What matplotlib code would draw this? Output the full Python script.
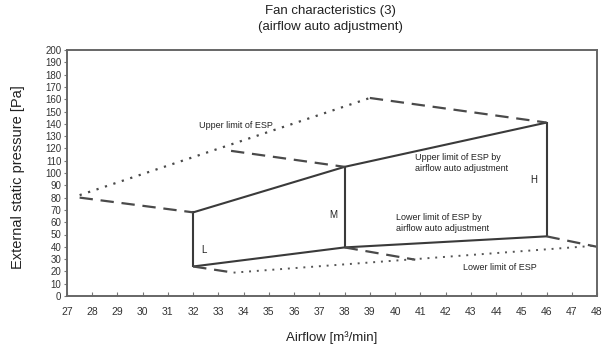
import matplotlib
matplotlib.use("Agg")
import matplotlib.pyplot as plt
from matplotlib import font_manager

names = {f.name for f in font_manager.fontManager.ttflist}
fam = ["Liberation Sans Narrow"] if "Liberation Sans Narrow" in names else ["Liberation Sans"]
plt.rcParams["font.family"] = fam + ["DejaVu Sans"]

# Operating range by airflow auto adjustment (solid)
upper_auto_x = [32, 38, 46]
upper_auto_y = [68, 105, 141]
lower_auto_x = [32, 38, 46]
lower_auto_y = [24, 39.5, 48.5]

# Upper limit of ESP (dotted) and its dashed connectors
upper_esp_x = [27.5, 39.0]
upper_esp_y = [82, 161]
upper_dash_segments = [
    ([27.5, 32], [80, 68]),
    ([33.5, 38], [118, 105]),
    ([39.0, 46], [161, 141]),
]

# Lower limit of ESP (dotted) and its dashed connectors
lower_esp_x = [33.6, 48.0]
lower_esp_y = [19, 41]
lower_dash_segments = [
    ([32, 33.6], [24, 19]),
    ([38, 40.8], [39.5, 29.5]),
    ([46, 48.0], [48.5, 40]),
]

tap_labels = ["L", "M", "H"]
tap_x = [32, 38, 46]
tap_label_pos = [(32.3, 37), (37.55, 66), (45.5, 94)]

x_ticks = list(range(27, 49))
y_ticks = list(range(0, 201, 10))

W, H = 606, 352
fig = plt.figure(figsize=(W / 100, H / 100), dpi=100)
ax = fig.add_axes([67 / W, 1 - 296 / H, (597 - 67) / W, (296 - 50) / H])
ax.set_xlim(27, 48)
ax.set_ylim(0, 200)

line_c = "#3a3a3a"
# solid curves and tap verticals
ax.plot(upper_auto_x, upper_auto_y, color=line_c, lw=1.5, solid_capstyle="butt")
ax.plot(lower_auto_x, lower_auto_y, color=line_c, lw=1.5, solid_capstyle="butt")
for i, xv in enumerate(tap_x):
    ax.plot([xv, xv], [lower_auto_y[i], upper_auto_y[i]], color=line_c, lw=1.5)

dash = (0, (6, 3.5))
dot = (0, (1, 3))
for xs, ys in upper_dash_segments + lower_dash_segments:
    ax.plot(xs, ys, color="#4a4a4a", lw=1.6, linestyle=dash)
ax.plot(upper_esp_x, upper_esp_y, color="#4a4a4a", lw=1.6, linestyle=dot)
ax.plot(lower_esp_x, lower_esp_y, color="#555555", lw=1.4, linestyle=dot)

ts = 6.5
for lab, (lx, ly) in zip(tap_labels, tap_label_pos):
    ax.text(lx, ly, lab, fontsize=ts + 0.5, color="#222", ha="left" if lab == "L" else "center", va="center")
ax.text(33.7, 138.5, "Upper limit of ESP", fontsize=ts, color="#222", ha="center", va="center")
ax.text(40.8, 108, "Upper limit of ESP by\nairflow auto adjustment", fontsize=ts, color="#222",
        ha="left", va="center", linespacing=1.3)
ax.text(40.05, 59, "Lower limit of ESP by\nairflow auto adjustment", fontsize=ts, color="#222",
        ha="left", va="center", linespacing=1.3)
ax.text(42.7, 23.5, "Lower limit of ESP", fontsize=ts, color="#222", ha="left", va="center")

ax.set_xticks(x_ticks)
ax.set_yticks(y_ticks)
ax.tick_params(axis="x", direction="in", length=3, width=0.8, colors="#777", labelcolor="#333",
               labelsize=7.5, pad=8)
ax.tick_params(axis="y", direction="out", length=2.5, width=0.8, colors="#777", labelcolor="#333",
               labelsize=7, pad=1.5)
for s in ax.spines.values():
    s.set_color("#666")
    s.set_linewidth(1.4)

ax.set_xlabel("Airflow [m³/min]", fontsize=9.5, color="#222")
ax.xaxis.set_label_coords(0.5, -(338 - 296) / (296 - 50), transform=ax.transAxes)
ax.xaxis.label.set_va("center")
ax.set_ylabel("External static pressure [Pa]", fontsize=10.5, color="#222")
ax.yaxis.set_label_coords(-(67 - 18) / (597 - 67), (296 - 177) / (296 - 50), transform=ax.transAxes)
ax.yaxis.label.set_va("center")
fig.text(330 / W, 1 - 19 / H, "Fan characteristics (3)\n(airflow auto adjustment)", fontsize=9.5,
         color="#222", ha="center", va="center", linespacing=1.45)

fig.savefig("out.png", dpi=100, facecolor="white")
